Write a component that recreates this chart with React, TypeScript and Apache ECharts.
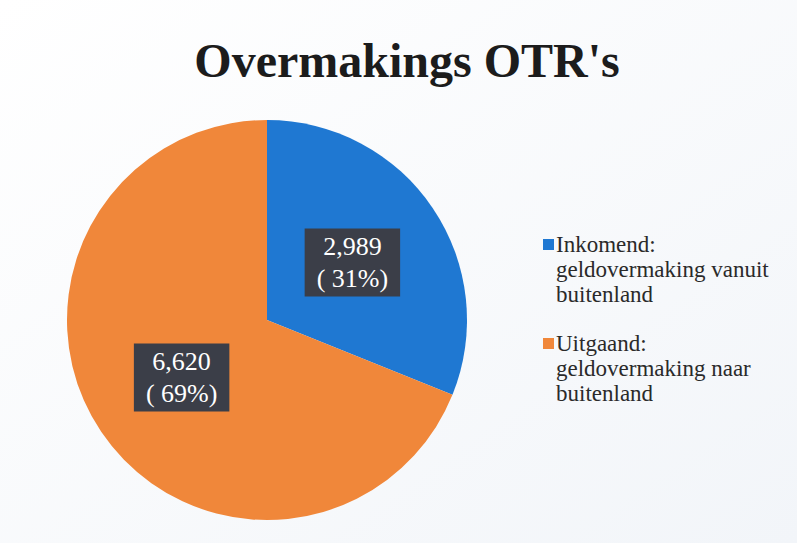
import React, { useEffect, useRef } from "react";
import * as echarts from "echarts";

const titleText = "Overmakings OTR's";
const categories = [
  "Inkomend:\ngeldovermaking vanuit\nbuitenland",
  "Uitgaand:\ngeldovermaking naar\nbuitenland",
];
const values = [2989, 6620];
const percents = [31, 69];
const colors = ["#1f78d2", "#f0873a"];

export default function App() {
  const ref = useRef<HTMLDivElement>(null);
  useEffect(() => {
    if (!ref.current) return;
    const chart = echarts.init(ref.current, undefined, { renderer: "svg" });
    const fmt = (v: number) => v.toLocaleString("en-US");
    chart.setOption({
      animation: false,
      backgroundColor: {
        type: "linear",
        x: 0,
        y: 0,
        x2: 1,
        y2: 1,
        colorStops: [
          { offset: 0, color: "#ffffff" },
          { offset: 1, color: "#f2f5f9" },
        ],
      },
      title: {
        text: titleText,
        left: 402,
        textAlign: "center",
        top: 31,
        textStyle: {
          fontFamily: "Liberation Serif",
          fontWeight: "bold",
          fontSize: 48,
          color: "#1c1c1c",
        },
      },
      legend: {
        orient: "vertical",
        left: 538,
        top: 227,
        itemGap: 24,
        itemWidth: 11,
        itemHeight: 61,
        icon: "path://M0,0H11V11H0Z M0,60.9H0.1V61H0Z",
        data: categories,
        textStyle: {
          fontFamily: "Liberation Serif",
          fontSize: 23,
          lineHeight: 25,
          color: "#2a2a2a",
          padding: [0, 0, 0, -3],
        },
      },
      series: [
        {
          type: "pie",
          center: [267, 320],
          radius: 200,
          startAngle: 90,
          clockwise: true,
          data: categories.map((c, i) => ({
            name: c,
            value: values[i],
            itemStyle: { color: colors[i] },
          })),
          label: {
            show: true,
            position: "inside",
            formatter: (p: any) =>
              fmt(p.value) + "\n( " + percents[p.dataIndex] + "%)",
            fontFamily: "Liberation Serif",
            fontSize: 26,
            lineHeight: 32,
            color: "#ffffff",
            backgroundColor: "#3b3e48",
            padding: [2, 12, 2, 12],
            align: "center",
          },
          labelLine: { show: false },
          emphasis: { disabled: true },
        },
      ],
    });
    return () => chart.dispose();
  }, []);
  return (
    <div
      ref={ref}
      style={{ position: "fixed", left: 0, top: 0, width: 797, height: 543 }}
    />
  );
}
